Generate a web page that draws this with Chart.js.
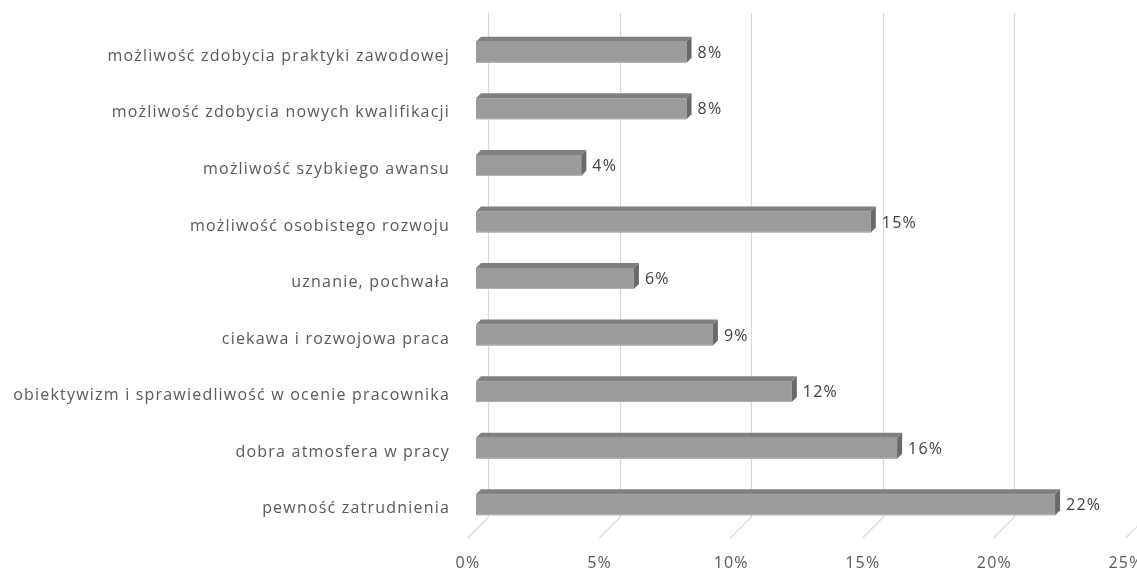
<!DOCTYPE html>
<html lang="pl">
<head>
<meta charset="utf-8">
<title>Czynniki motywujące</title>
<script src="https://cdn.jsdelivr.net/npm/chart.js@4.4.1/dist/chart.umd.min.js"></script>
<style>
  html, body { margin: 0; padding: 0; background: #ffffff; }
  #wrap { width: 1137px; height: 572px; position: relative; }
</style>
</head>
<body>
<div id="wrap"><canvas id="chart"></canvas></div>
<script>
// Categories, listed from the top bar down
const categories = [
  'możliwość zdobycia praktyki zawodowej',
  'możliwość zdobycia nowych kwalifikacji',
  'możliwość szybkiego awansu',
  'możliwość osobistego rozwoju',
  'uznanie, pochwała',
  'ciekawa i rozwojowa praca',
  'obiektywizm i sprawiedliwość w ocenie pracownika',
  'dobra atmosfera w pracy',
  'pewność zatrudnienia'
];
// Share of answers, in percent
const shares = [8, 8, 4, 15, 6, 9, 12, 16, 22];
// Value axis ticks, in percent
const tickValues = [0, 5, 10, 15, 20, 25];

const FONT = "'Open Sans', 'DejaVu Sans', sans-serif";
const DEPTH = 5;          // 3D extrusion of each bar
const WALL_SHIFT = 12;    // back wall sits behind the bars
const FLOOR_DX = -21, FLOOR_DY = 21;
const WALL_TOP = 13;

function applySpacing(ctx) {
  if ('letterSpacing' in ctx) ctx.letterSpacing = '1.2px';
}

// Fixed axis sizes, without the extra room Chart.js reserves for edge labels
function fixedSize(prop, size) {
  return scale => {
    scale[prop] = size;
    scale.paddingLeft = scale.paddingRight = scale.paddingTop = scale.paddingBottom = 0;
  };
}

// Back wall gridlines running into the floor, plus the bar extrusion
const wallGrid = {
  id: 'wallGrid',
  beforeDraw(chart) { applySpacing(chart.ctx); },
  beforeDatasetsDraw(chart) {
    const { ctx, scales: { x }, chartArea } = chart;
    const floorY = chartArea.bottom - 16;
    ctx.save();
    ctx.strokeStyle = '#d9d9d9';
    ctx.lineWidth = 1.2;
    tickValues.forEach(v => {
      const xb = Math.round(x.getPixelForValue(v) + WALL_SHIFT) + 0.5;
      ctx.beginPath();
      ctx.moveTo(xb, WALL_TOP);
      ctx.lineTo(xb, floorY);
      ctx.lineTo(xb + FLOOR_DX, floorY + FLOOR_DY);
      ctx.stroke();
    });
    ctx.restore();
  },
  afterDatasetsDraw(chart) {
    const { ctx } = chart;
    const meta = chart.getDatasetMeta(0);
    ctx.save();
    meta.data.forEach((bar, i) => {
      const top = bar.y - bar.height / 2;
      const bottom = bar.y + bar.height / 2;
      const x0 = bar.base, x1 = bar.x, d = DEPTH;
      // top face
      ctx.fillStyle = '#808080';
      ctx.beginPath();
      ctx.moveTo(x0, top);
      ctx.lineTo(x0 + d, top - d);
      ctx.lineTo(x1 + d, top - d);
      ctx.lineTo(x1, top);
      ctx.closePath();
      ctx.fill();
      // end face
      ctx.fillStyle = '#696969';
      ctx.beginPath();
      ctx.moveTo(x1, top);
      ctx.lineTo(x1 + d, top - d);
      ctx.lineTo(x1 + d, bottom - d);
      ctx.lineTo(x1, bottom);
      ctx.closePath();
      ctx.fill();
      // light lower edge of the front face
      ctx.fillStyle = '#b4b4b4';
      ctx.fillRect(x0, bottom - 1, x1 - x0, 1);
      // value label
      applySpacing(ctx);
      ctx.fillStyle = '#404040';
      ctx.font = '16px ' + FONT;
      ctx.textAlign = 'left';
      ctx.textBaseline = 'middle';
      ctx.fillText(shares[i] + '%', x1 + d + 6, bar.y + 1);
    });
    ctx.restore();
  }
};

new Chart(document.getElementById('chart'), {
  type: 'bar',
  data: {
    labels: categories,
    datasets: [{
      data: shares,
      backgroundColor: '#9b9b9b',
      borderWidth: 0,
      barPercentage: 0.37,
      categoryPercentage: 1
    }]
  },
  options: {
    indexAxis: 'y',
    responsive: true,
    maintainAspectRatio: false,
    animation: false,
    events: [],
    layout: { autoPadding: false, padding: { top: 24, right: 3, left: 0, bottom: 0 } },
    plugins: { legend: { display: false }, tooltip: { enabled: false } },
    scales: {
      x: {
        min: 0,
        max: 25,
        afterBuildTicks(scale) { scale.ticks = tickValues.map(v => ({ value: v })); },
        afterFit: fixedSize('height', 39),
        grid: { display: false, drawTicks: false },
        border: { display: false },
        ticks: {
          padding: 21,
          labelOffset: -8,
          maxRotation: 0,
          autoSkip: false,
          color: '#595959',
          font: { family: FONT, size: 16 },
          callback: v => v + '%'
        }
      },
      y: {
        afterFit: fixedSize('width', 476),
        grid: { display: false, drawTicks: false },
        border: { display: false },
        ticks: {
          padding: 26,
          labelOffset: 4,
          autoSkip: false,
          color: '#595959',
          font: { family: FONT, size: 16 }
        }
      }
    }
  },
  plugins: [wallGrid]
});
</script>
</body>
</html>
